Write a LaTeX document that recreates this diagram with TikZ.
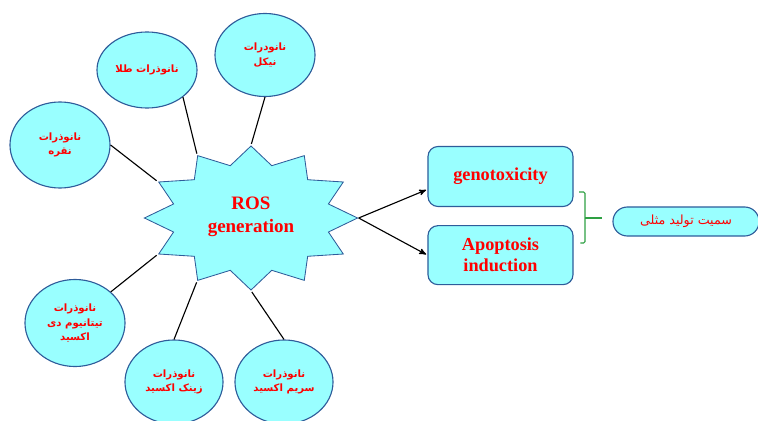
\documentclass[tikz,border=0pt]{standalone}
\usepackage{fontspec}
\setmainfont{Liberation Serif}
\newfontfamily\arabicfont[Script=Arabic]{DejaVu Sans}
\TeXXeTstate=1
\usepackage{tikz}
\usetikzlibrary{arrows,shapes.geometric,positioning}
\definecolor{bubble}{HTML}{99FFFF}
\definecolor{rim}{HTML}{2E5C9A}
\definecolor{bracegreen}{HTML}{2EA043}
\newcommand{\fa}[1]{\beginR #1\endR}

\begin{document}
\begin{tikzpicture}[x=0.025cm,y=-0.025cm,>=stealth',shorten >=1pt,thick,np/.style={ellipse,draw=rim,fill=bubble,minimum width=2.5cm,minimum height=2.1cm,inner sep=0pt,align=center,text=red,font=\arabicfont\bfseries\fontsize{7.2}{10.5}\selectfont},effect/.style={draw=rim,fill=bubble,rounded corners=0.25cm,minimum width=3.625cm,minimum height=1.5cm,align=center,text=red,font=\bfseries\fontsize{13}{15}\selectfont}]
	\useasboundingbox (0,0) rectangle (758,421);

	\node[star,star points=12,star point ratio=1.33,minimum size=3.6cm,inner sep=0pt,draw=rim,semithick,fill=bubble,xscale=1.48,transform shape]	(ros)	at (251,218)	{};
	\node[align=center,text=red,font=\bfseries\fontsize{13.5}{16.5}\selectfont]	(rostext)	at (251,217)	{ROS\\generation};

	\node[np,minimum height=2.075cm]	(nickel)	at (265,55)		{\fa{نانودرات}\\\fa{نیکل}};
	\node[np,minimum height=1.9cm]		(gold)		at (147,70)		{\fa{نانوذرات طلا}};
	\node[np,minimum height=2.15cm]		(silver)	at (60,145)		{\fa{نانوذرات}\\\fa{نقره}};
	\node[np,minimum height=2.175cm]	(titan)		at (75,323)		{\fa{نانوذرات}\\\fa{تیتانیوم دی}\\\fa{اکسید}};
	\node[np,minimum width=2.45cm]		(zinc)		at (174,382)	{\fa{نانوذرات}\\\fa{زینک اکسید}};
	\node[np,minimum width=2.45cm]		(cerium)	at (284,382)	{\fa{نانوذرات}\\\fa{سریم اکسید}};

	\node[effect]							(geno)	at (500.5,176.5)	{genotoxicity};
	\node[effect,minimum height=1.475cm]	(apop)	[below=0.45cm of geno]	{Apoptosis\\induction};

	\node[draw=rim,fill=bubble,rounded corners=0.36cm,minimum width=3.65cm,minimum height=0.725cm,text=red,font=\arabicfont\fontsize{9}{11}\selectfont]	(repro)	at (686,221.5)	{\fa{سمیت تولید مثلی}};

	\path
		(gold.-37)		edge	(ros.120)
		(nickel.south)	edge	(ros.90)
		(silver.east)	edge	(ros.150)
		(titan.41)		edge	(ros.210)
		(zinc.north)	edge	(ros.240)
		(cerium.north)	edge	(ros.270)
		(ros.0)			edge[->]	(geno.190)
		(ros.0)			edge[->]	(apop.west)
	;

	\draw[bracegreen,rounded corners=1pt] (579,192) -- (585,192) -- (585,243) -- (579,243);
	\draw[bracegreen] (585,218) -- (603,218);
\end{tikzpicture}
\end{document}
